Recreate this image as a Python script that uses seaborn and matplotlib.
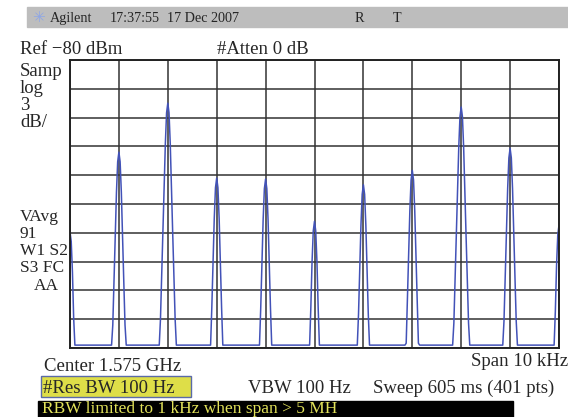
import numpy as np
import matplotlib
matplotlib.use("Agg")
import matplotlib.pyplot as plt
import seaborn as sns

# Spectrum analyser screen: Ref -80 dBm, 3 dB/div, span 10 kHz
REF_DBM = -80
DB_PER_DIV = 3
SPAN_KHZ = 10

# peaks of the comb (offset from centre, kHz) and their levels (dBm)
PEAK_KHZ = [-5, -4, -3, -2, -1, 0, 1, 2, 3, 4, 5]
PEAK_DBM = [-97.9, -89.6, -84.5, -92.3, -92.4, -96.8, -93.0, -91.5, -84.9, -89.2, -97.2]
FLOOR_DBM = -109.7

# shape of one peak: offset (Hz) vs drop below peak (dB)
PROFILE_HZ = [-175, -150, -125, -100, -75, -50, -25, 0, 25, 50, 75, 100, 125, 150, 175]
PROFILE_DROP = [27, 22.5, 18, 13.5, 9, 4.2, 1.0, 0, 1.0, 4.2, 9, 13.5, 18, 22.5, 27]

W, H = 568, 417

sns.set_style("white")
plt.rcParams["font.family"] = ["Liberation Serif", "DejaVu Serif"]

fig = plt.figure(figsize=(W / 100, H / 100), dpi=100)

# plot frame in pixels: x 70..559, y 60..348
ax = fig.add_axes([70 / W, (H - 348) / H, 489 / W, 288 / H])

freqs, levels = [], []
for pk, lvl in zip(PEAK_KHZ, PEAK_DBM):
    for off, drop in zip(PROFILE_HZ, PROFILE_DROP):
        freqs.append(pk * 1000 + off)
        levels.append(max(FLOOR_DBM, lvl - drop))

sns.lineplot(x=freqs, y=levels, ax=ax, color="#4252b8", linewidth=1.1)

half = SPAN_KHZ * 1000 / 2
bottom = REF_DBM - 10 * DB_PER_DIV
ax.set_xlim(-half, half)
ax.set_ylim(bottom, REF_DBM)
ax.set_xticks(np.arange(-half, half + 1, 1000))
ax.set_yticks(np.arange(bottom, REF_DBM + 0.1, DB_PER_DIV))
ax.set_xticklabels([])
ax.set_yticklabels([])
ax.tick_params(length=0)
ax.grid(True, color="#333333", linewidth=1.1)
ax.set_axisbelow(True)
for s in ax.spines.values():
    s.set_color("#222222")
    s.set_linewidth(1.4)


def txt(x, y, s, **kw):
    kw.setdefault("fontsize", 13.5)
    kw.setdefault("va", "baseline")
    return fig.text(x / W, 1 - y / H, s, **kw)


# grey status bar
fig.patches.append(plt.Rectangle((27 / W, 1 - 27 / H), (W - 27) / W, 20 / H,
                                 transform=fig.transFigure, color="#bdbdbd",
                                 zorder=0))
txt(32, 22, "\u2733", fontsize=11, color="#8ea6e6", family=["DejaVu Sans"])
txt(50, 22, "Agilent", fontsize=10.2)
txt(110, 22, "17:37:55", fontsize=10.2)
txt(167, 22, "17 Dec 2007", fontsize=10.2)
txt(355, 22, "R", fontsize=10.2)
txt(393, 22, "T", fontsize=10.2)

txt(20, 54, "Ref \u221280 dBm")
txt(217, 54, "#Atten 0 dB")

for i, s in enumerate(["Samp", "log", "3", "dB/"]):
    txt(20, 76 + 17 * i, s)
for i, s in enumerate(["VAvg", "91", "W1 S2", "S3 FC"]):
    txt(20, 221 + 17 * i, s, fontsize=12.5)
txt(59, 290, "AA", ha="right", fontsize=12.5)

txt(44, 371, "Center 1.575 GHz")
txt(568, 366, "Span 10 kHz", ha="right")

fig.patches.append(plt.Rectangle((41 / W, 1 - 397 / H), 150 / W, 21 / H,
                                 transform=fig.transFigure, facecolor="#dede48",
                                 edgecolor="#5a6aa8", linewidth=1, zorder=0))
txt(43, 393, "#Res BW 100 Hz")
txt(248, 393, "VBW 100 Hz")
txt(373, 393, "Sweep 605 ms (401 pts)")

fig.patches.append(plt.Rectangle((38 / W, 0), 475 / W, 16 / H,
                                 transform=fig.transFigure, color="black",
                                 zorder=0))
txt(42, 413, "RBW limited to 1 kHz when span > 5 MH", color="#e2e25a",
    fontsize=12.5)

fig.savefig("out.png", dpi=100)
